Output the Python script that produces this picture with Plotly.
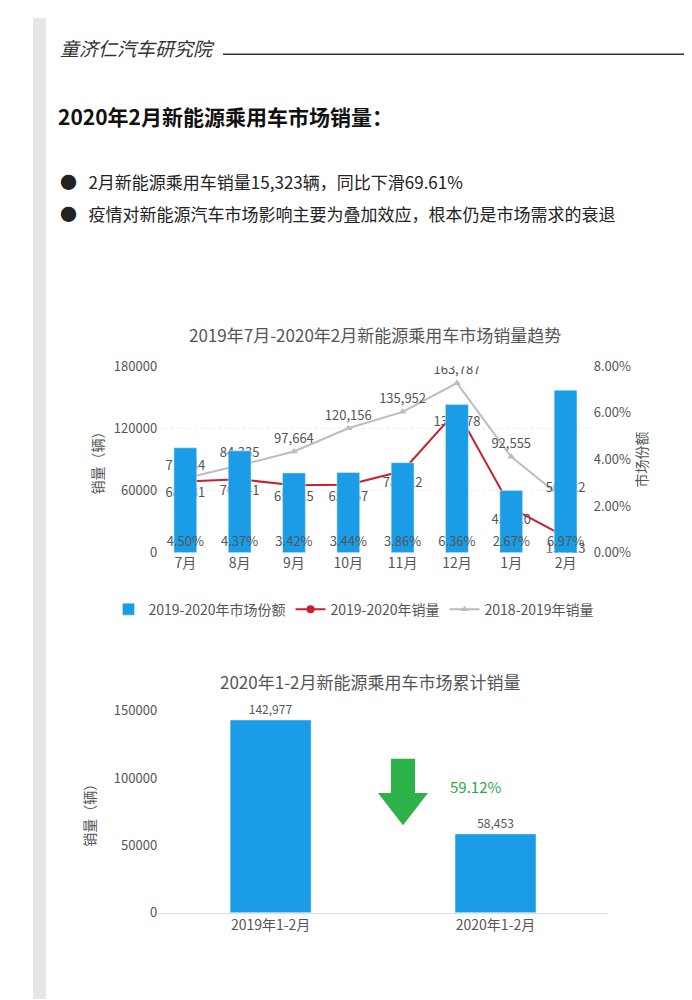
import plotly.graph_objects as go

months = ['7月', '8月', '9月', '10月', '11月', '12月', '1月', '2月']
share_1920 = [4.50, 4.37, 3.42, 3.44, 3.86, 6.36, 2.67, 6.97]
sales_1920 = [68731, 70841, 65015, 65567, 78822, 137378, 43110, 15323]
sales_1819 = [71784, 84335, 97664, 120156, 135952, 163787, 92555, 50422]

cum_labels = ['2019年1-2月', '2020年1-2月']
cum_sales = [142977, 58453]
cum_drop = '59.12%'

FONT = 'Noto Sans CJK SC'
BLUE = '#1a9de6'
GREY = '#555555'

def py(p):
    # pixel row -> paper y
    return 1 - p / 1000

fig = go.Figure()

fig.add_trace(go.Bar(
    x=months, y=share_1920, name='2019-2020年市场份额', yaxis='y2',
    marker_color=BLUE, width=0.42,
    text=[f'{v:.2f}%' for v in share_1920], textposition='inside', textangle=0,
    insidetextanchor='start', constraintext='none', textfont=dict(color=GREY, size=13),
))
fig.add_trace(go.Scatter(
    x=months, y=sales_1920, name='2019-2020年销量', mode='lines+markers+text',
    line=dict(color='#c8202c', width=2), marker=dict(size=8, color='#c8202c'),
    text=[f'{v:,}' for v in sales_1920], textposition='bottom center',
    textfont=dict(color=GREY, size=13),
))
fig.add_trace(go.Scatter(
    x=months, y=sales_1819, name='2018-2019年销量', mode='lines+markers+text',
    line=dict(color='#bdbdbd', width=2), marker=dict(size=7, color='#bdbdbd', symbol='triangle-up'),
    text=[f'{v:,}' for v in sales_1819], textposition='top center',
    textfont=dict(color=GREY, size=13),
))

fig.add_trace(go.Bar(
    x=cum_labels, y=cum_sales, xaxis='x2', yaxis='y3', showlegend=False,
    marker_color=BLUE, width=0.36,
    text=[f'{v:,}' for v in cum_sales], textposition='outside',
    textfont=dict(color=GREY, size=12), cliponaxis=False,
))

axis_font = dict(color=GREY, size=13)
fig.update_layout(
    width=692, height=1000, margin=dict(l=0, r=0, t=0, b=0),
    paper_bgcolor='white', plot_bgcolor='white',
    font=dict(family=FONT, color=GREY),
    barmode='overlay',
    xaxis=dict(domain=[0.217, 0.845], anchor='y', tickfont=dict(color=GREY, size=14), showline=False),
    yaxis=dict(domain=[py(545), py(355)], range=[0, 180000], tickvals=[0, 60000, 120000, 180000],
               tickformat='d', tickfont=axis_font, showgrid=True, gridcolor='#eeeeee', griddash='dot',
               zeroline=False, title=dict(text='销量（辆）', font=dict(size=14, color=GREY), standoff=6)),
    yaxis2=dict(overlaying='y', side='right', range=[0, 8], tickvals=[0, 2, 4, 6, 8],
                ticktext=['0.00%', '2.00%', '4.00%', '6.00%', '8.00%'], tickfont=axis_font,
                showgrid=False, zeroline=False,
                title=dict(text='市场份额', font=dict(size=14, color=GREY), standoff=6)),
    xaxis2=dict(domain=[0.217, 0.867], anchor='y3', tickfont=dict(color=GREY, size=14),
                showline=True, linecolor='#dddddd'),
    yaxis3=dict(domain=[py(912), py(706)], range=[0, 150000], tickvals=[0, 50000, 100000, 150000],
                tickformat='d', tickfont=axis_font, showgrid=False, zeroline=False,
                title=dict(text='销量（辆）', font=dict(size=14, color=GREY), standoff=14)),
    legend=dict(orientation='h', x=0.5, xanchor='center', y=py(603), yanchor='middle',
                font=dict(size=14, color=GREY)),
)

ann = [
    dict(text='<i>童济仁汽车研究院</i>', x=50 / 692, y=py(30), font=dict(size=19, color='#333333')),
    dict(text='<b>2020年2月新能源乘用车市场销量：</b>', x=48 / 692, y=py(100), font=dict(size=21, color='#111111')),
    dict(text='●   2月新能源乘用车销量15,323辆，同比下滑69.61%', x=50 / 692, y=py(167), font=dict(size=17, color='#222222')),
    dict(text='●   疫情对新能源汽车市场影响主要为叠加效应，根本仍是市场需求的衰退', x=50 / 692, y=py(199), font=dict(size=17, color='#222222')),
    dict(text='2019年7月-2020年2月新能源乘用车市场销量趋势', x=367 / 692, y=py(323), xanchor='center', font=dict(size=17, color=GREY)),
    dict(text='2020年1-2月新能源乘用车市场累计销量', x=362 / 692, y=py(676), xanchor='center', font=dict(size=17, color=GREY)),
    dict(text=cum_drop, x=440 / 692, y=py(783), font=dict(size=15, color='#2aa84a')),
]
for a in ann:
    a.setdefault('xanchor', 'left')
    fig.add_annotation(xref='paper', yref='paper', showarrow=False, yanchor='middle', **a)

# header rule, left page strip, and the green down arrow
fig.add_shape(type='line', xref='paper', yref='paper', x0=215 / 692, x1=1, y0=py(37), y1=py(37),
              line=dict(color='#333333', width=1.5))
fig.add_shape(type='rect', xref='paper', yref='paper', x0=25 / 692, x1=38 / 692, y0=0, y1=1,
              fillcolor='#e6e6e6', line_width=0)
fig.add_shape(type='path', xref='paper', yref='paper', fillcolor='#2db24a', line_width=0,
              path=f'M {383/692} {py(755)} L {407/692} {py(755)} L {407/692} {py(790)} L {420/692} {py(790)} '
                   f'L {395/692} {py(823)} L {370/692} {py(790)} L {383/692} {py(790)} Z')

fig.write_html('out.html')
